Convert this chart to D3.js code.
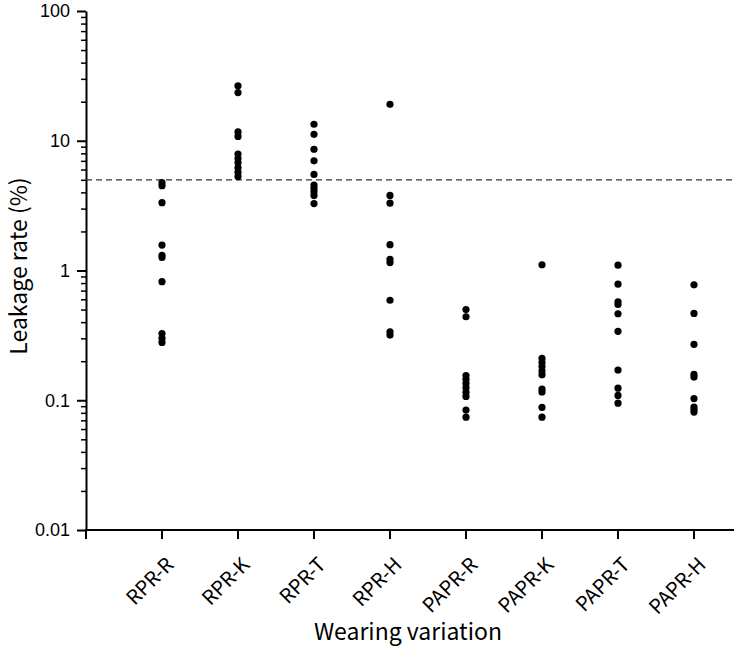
<!DOCTYPE html>
<html>
<head>
<meta charset="utf-8">
<script src="https://cdn.jsdelivr.net/npm/d3@7"></script>
<style>
  body { margin: 0; background: #fff; }
</style>
</head>
<body>
<div id="chart"></div>
<script>
// Wearing variations (x categories)
const groups = ["RPR-R", "RPR-K", "RPR-T", "RPR-H", "PAPR-R", "PAPR-K", "PAPR-T", "PAPR-H"];

// Leakage rate (%) for each subject, one array per wearing variation
const rprR = [4.75, 4.5, 3.33, 1.57, 1.31, 1.26, 0.82, 0.327, 0.30, 0.279];
const rprK = [26.5, 23.5, 11.7, 10.8, 7.9, 7.3, 6.8, 6.2, 5.7, 5.3];
const rprT = [13.4, 11.2, 8.6, 7.0, 5.5, 4.56, 4.3, 4.05, 3.78, 3.28];
const rprH = [19.1, 3.79, 3.3, 1.58, 1.22, 1.15, 0.59, 0.337, 0.318];
const paprR = [0.50, 0.44, 0.155, 0.145, 0.135, 0.125, 0.115, 0.107, 0.084, 0.074];
const paprK = [1.107, 0.21, 0.195, 0.182, 0.168, 0.157, 0.122, 0.116, 0.088, 0.074];
const paprT = [1.10, 0.785, 0.574, 0.547, 0.464, 0.34, 0.171, 0.124, 0.109, 0.095];
const paprH = [0.776, 0.467, 0.27, 0.158, 0.151, 0.103, 0.0887, 0.0847, 0.081];

const series = [rprR, rprK, rprT, rprH, paprR, paprK, paprT, paprH];

// threshold line
const threshold = 5;

const yTickValues = [0.01, 0.1, 1, 10, 100];
const yTickLabels = ["0.01", "0.1", "1", "10", "100"];

const width = 734;
const height = 650;
const margin = { top: 11, right: 0, bottom: 120, left: 86 };

const svg = d3.select("#chart").append("svg")
  .attr("width", width)
  .attr("height", height)
  .attr("viewBox", [0, 0, width, height])
  .style("font-family", "'Noto Sans CJK JP', 'DejaVu Sans', sans-serif");

const y = d3.scaleLog()
  .domain([0.01, 100])
  .range([height - margin.bottom, margin.top]);

// positions 1..8 with one empty step before the first group
const x = d3.scaleLinear()
  .domain([0, 9])
  .range([margin.left, margin.left + 76 * 9]);

const plotBottom = height - margin.bottom;

// minor ticks for the log axis
const minorTicks = [];
[0.01, 0.1, 1, 10].forEach(d => {
  for (let k = 2; k <= 9; k++) minorTicks.push(d * k);
});

const yAxis = svg.append("g")
  .attr("transform", `translate(${margin.left},0)`);

yAxis.append("g")
  .call(d3.axisLeft(y).tickValues(yTickValues).tickFormat((d, i) => yTickLabels[i]).tickSize(9).tickSizeOuter(0))
  .call(g => g.select(".domain").attr("stroke-width", 2))
  .call(g => g.selectAll(".tick line").attr("stroke-width", 2))
  .call(g => g.selectAll(".tick text")
    .attr("font-size", 18)
    .attr("x", -16)
    .attr("fill", "#000"));

yAxis.append("g")
  .call(d3.axisLeft(y).tickValues(minorTicks).tickFormat("").tickSize(5).tickSizeOuter(0))
  .call(g => g.select(".domain").remove())
  .call(g => g.selectAll(".tick line").attr("stroke-width", 1.5));

// x axis
const xAxis = svg.append("g")
  .attr("transform", `translate(0,${plotBottom})`);

xAxis.append("line")
  .attr("x1", margin.left - 1)
  .attr("x2", width)
  .attr("stroke", "#000")
  .attr("stroke-width", 2);

xAxis.selectAll(".xtick")
  .data(d3.range(0, 9))
  .join("line")
  .attr("x1", d => x(d))
  .attr("x2", d => x(d))
  .attr("y1", 0)
  .attr("y2", 9)
  .attr("stroke", "#000")
  .attr("stroke-width", 2);

xAxis.selectAll(".xlabel")
  .data(groups)
  .join("text")
  .attr("transform", (d, i) => `translate(${x(i + 1) + 13},${36}) rotate(-45)`)
  .attr("text-anchor", "end")
  .attr("font-size", 20)
  .text(d => d);

// threshold
svg.append("line")
  .attr("x1", margin.left)
  .attr("x2", width)
  .attr("y1", y(threshold))
  .attr("y2", y(threshold))
  .attr("stroke", "#333")
  .attr("stroke-width", 1.2)
  .attr("stroke-dasharray", "6,4");

// points
svg.append("g")
  .selectAll("g")
  .data(series)
  .join("g")
  .each(function (vals, i) {
    d3.select(this).selectAll("circle")
      .data(vals)
      .join("circle")
      .attr("cx", x(i + 1))
      .attr("cy", d => y(d))
      .attr("r", 3.6)
      .attr("fill", "#000");
  });

// axis titles
svg.append("text")
  .attr("transform", `translate(27,266) rotate(-90)`)
  .attr("text-anchor", "middle")
  .attr("font-size", 23)
  .text("Leakage rate (%)");

svg.append("text")
  .attr("x", 408)
  .attr("y", 640)
  .attr("text-anchor", "middle")
  .attr("font-size", 23)
  .text("Wearing variation");
</script>
</body>
</html>
